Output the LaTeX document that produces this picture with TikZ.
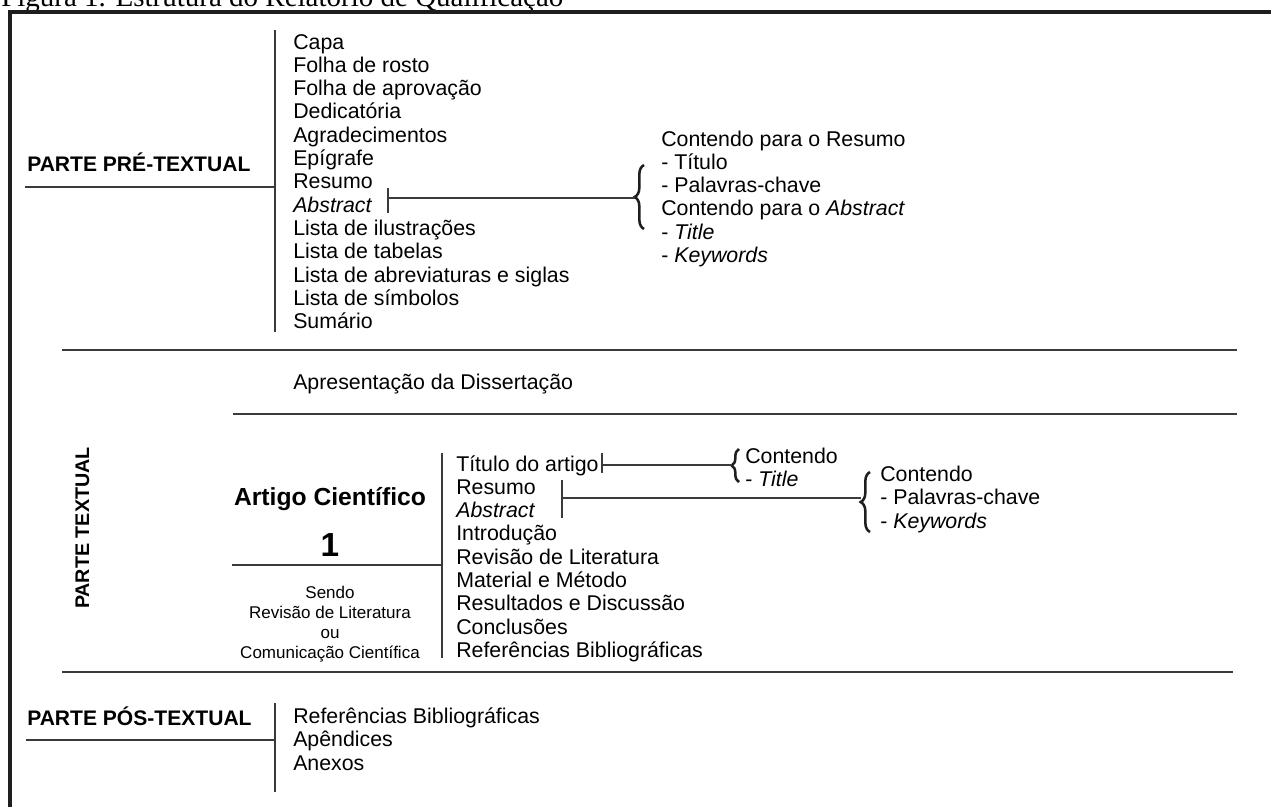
\documentclass[tikz,border=0pt]{standalone}
\usepackage{fontspec}
\setmainfont{Liberation Sans}
\newfontfamily\capfont{Liberation Serif}
\usepackage{tikz}
\usetikzlibrary{calc,positioning,decorations.pathreplacing}
\definecolor{frameBlack}{RGB}{30,30,30}
\definecolor{ruleGray}{RGB}{58,58,58}

\begin{document}
\begin{tikzpicture}[x=0.75pt, y=-0.75pt,
  rule/.style={ruleGray, line width=1.2pt},
  curly/.style={frameBlack, line width=1.9pt, decorate, decoration={brace, amplitude=#1}},
  item/.style={anchor=base west, inner sep=0pt, font=\fontsize{16}{17}\selectfont},
  parte/.style={anchor=base west, inner sep=0pt, font=\fontsize{15.8}{17}\selectfont\bfseries},
  nota/.style={anchor=base, inner sep=0pt, font=\fontsize{12.75}{15}\selectfont}]
\useasboundingbox (0,0) rectangle (1271,807);
\clip (0,0) rectangle (1271,807);

% caption, cut by the page edge
\node[anchor=base west, inner sep=0pt, font=\capfont\fontsize{21.75}{24}\selectfont] (fig) at (1,6) {Figura 1. Estrutura do Relatório de Qualificação};
\coordinate (fTL) at (10,12);
\draw[frameBlack, line width=2.3pt] (10,807) -- (fTL) -- (1271,12);

% parte pre-textual
\node[parte] (pre) at (27,171.3) {PARTE PRÉ-TEXTUAL};
\coordinate (preT) at (275,30);
\coordinate (preB) at (275,332);
\draw[rule] (preT) -- (preB);
\draw[rule] (25,187) -- (preT |- 0,187);
\foreach \t [count=\i from 0] in {Capa, Folha de rosto, Folha de aprovação, Dedicatória, Agradecimentos, Epígrafe, Resumo, \textit{Abstract}, Lista de ilustrações, Lista de tabelas, Lista de abreviaturas e siglas, Lista de símbolos, Sumário}
{
\node[item] (pre\i) at (293,49+23.3*\i) {\t};
}
\coordinate (resT) at (388,188);
\coordinate (resB) at (388,213);
\draw[rule] (resT) -- (resB);
\draw[curly=7pt] (644,229) -- (644,165);
\coordinate (resTip) at (635,198);
\draw[rule] (resT |- resTip) -- (resTip);
\foreach \t [count=\i from 0] in {Contendo para o Resumo, - Título, - Palavras-chave, Contendo para o \textit{Abstract}, - \textit{Title}, - \textit{Keywords}}
{
\node[item] (cres\i) at (661,146+23.3*\i) {\t};
}
\draw[rule] (62,350) -- (1237,350);

% parte textual
\node[item] (apres) at (293,389.5) {Apresentação da Dissertação};
\draw[rule] (233,414) -- (1237,414);
\node[parte, anchor=base, rotate=90, font=\fontsize{14.8}{17}\selectfont\bfseries] (txt) at (89,528) {PARTE TEXTUAL};
\node[anchor=base, inner sep=0pt, font=\fontsize{18.5}{20}\selectfont\bfseries] (artigo) at (330,505) {Artigo Científico};
\node[anchor=base, inner sep=0pt, font=\fontsize{25}{27}\selectfont\bfseries] (um) at (330,556) {1};
\coordinate (artT) at (442,453);
\coordinate (artB) at (442,658);
\draw[rule] (artT) -- (artB);
\draw[rule] (232,565) -- (artT |- 0,565);
\foreach \t [count=\i from 0] in {Sendo, Revisão de Literatura, ou, Comunicação Científica}
{
\node[nota] (sendo\i) at (330,598+20*\i) {\t};
}
\foreach \t [count=\i from 0] in {Título do artigo, Resumo, \textit{Abstract}, Introdução, Revisão de Literatura, Material e Método, Resultados e Discussão, Conclusões, Referências Bibliográficas}
{
\node[item] (art\i) at (456,471+23.3*\i) {\t};
}
\coordinate (titT) at ($(art0.base east)+(3,-18)$);
\coordinate (titB) at ($(art0.base east)+(3,2)$);
\draw[rule] (titT) -- (titB);
\draw[curly=5.5pt] (739,482) -- (739,449);
\coordinate (titTip) at (732,465);
\draw[rule] (titT |- titTip) -- (titTip);
\node[item] (ctit0) at (745,463.5) {Contendo};
\node[item] (ctit1) at (745,486.8) {- \textit{Title}};
\coordinate (absT) at (562,480);
\coordinate (absB) at (562,518);
\draw[rule] (absT) -- (absB);
\draw[curly=7pt] (870,532) -- (870,472);
\coordinate (absTip) at (861,498);
\draw[rule] (absT |- absTip) -- (absTip);
\foreach \t [count=\i from 0] in {Contendo, - Palavras-chave, - \textit{Keywords}}
{
\node[item] (cabs\i) at (880,481.5+23.3*\i) {\t};
}
\draw[rule] (62,672) -- (1233,672);

% parte pos-textual
\node[parte] (pos) at (27,725.3) {PARTE PÓS-TEXTUAL};
\coordinate (posT) at (275,703);
\coordinate (posB) at (275,792);
\draw[rule] (posT) -- (posB);
\draw[rule] (26,740) -- (posT |- 0,740);
\foreach \t [count=\i from 0] in {Referências Bibliográficas, Apêndices, Anexos}
{
\node[item] (pos\i) at (293,723.5+23.3*\i) {\t};
}
\end{tikzpicture}
\end{document}
